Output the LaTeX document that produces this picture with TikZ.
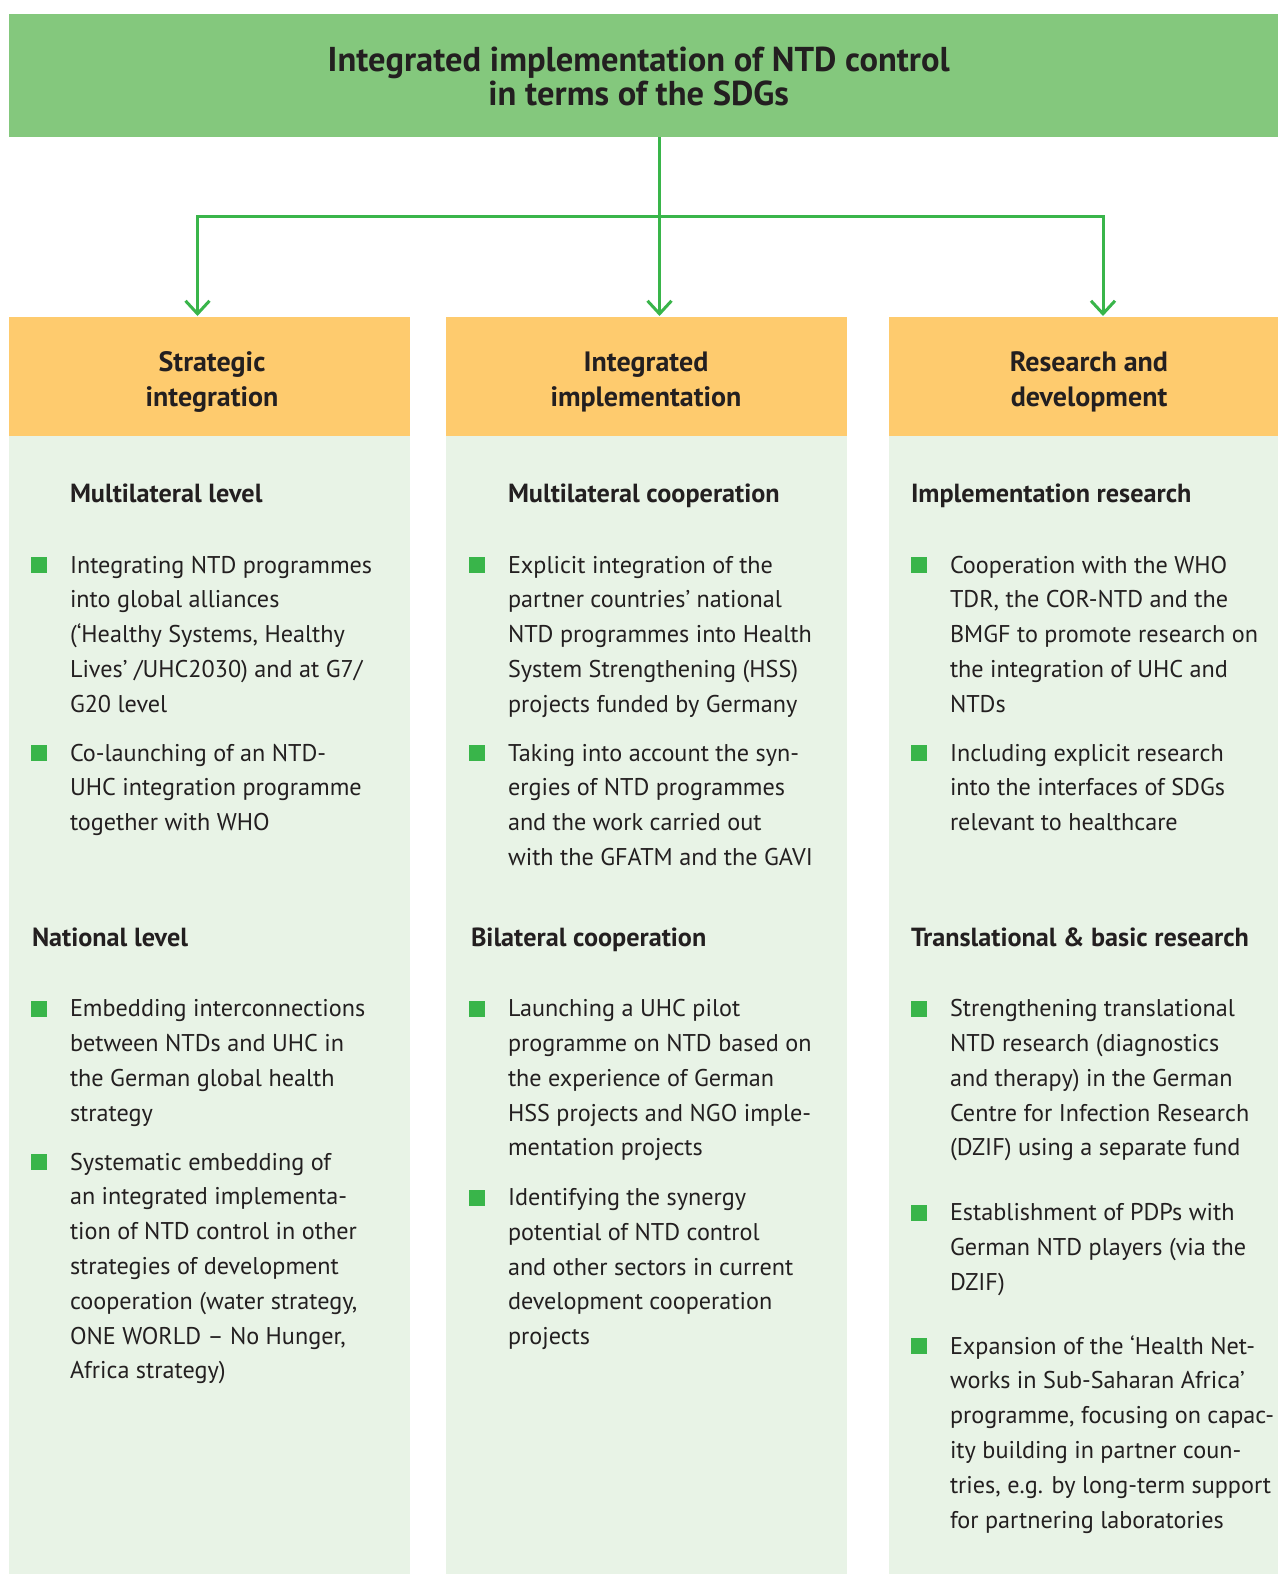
\documentclass[tikz,border=0pt]{standalone}
\usepackage{fontspec}
\setmainfont{PT Sans}
\usetikzlibrary{arrows.meta}
\definecolor{bannergreen}{HTML}{84C87D}
\definecolor{headorange}{HTML}{FECB6E}
\definecolor{panelgreen}{HTML}{E8F3E6}
\definecolor{bulletgreen}{HTML}{39B54A}
\definecolor{txt}{HTML}{231F20}
\tikzset{
  box/.style={inner sep=0pt, outer sep=0pt, anchor=north west},
  bul/.style={fill=bulletgreen, inner sep=0pt, outer sep=0pt, minimum size=16pt, anchor=south west},
  body/.style={inner sep=0pt, outer sep=0pt, anchor=base west, text=txt, font=\fontsize{24.2}{34.8}\selectfont},
  subhead/.style={inner sep=0pt, outer sep=0pt, anchor=base west, text=txt, font=\fontsize{26.2}{30}\selectfont\bfseries},
  colhead/.style={inner sep=0pt, outer sep=0pt, anchor=base, text=txt, font=\fontsize{28}{34.5}\selectfont\bfseries},
  conn/.style={draw=bulletgreen, line width=3pt, -{Straight Barb[length=13pt,width=24pt,line width=3pt]}},
}
\newcommand\bitem[5]{%
  \node[bul] (#1b) at (#2,#4) {};
  \node[body] (#1) at (#3,#4) {\parbox[t]{420pt}{\raggedright #5}};}
\begin{document}
\begin{tikzpicture}[x=1pt,y=-1pt]
\useasboundingbox (0,0) rectangle (1278,1574);
\fill[white] (0,0) rectangle (1278,1574);
% banner
\node[box, fill=bannergreen, minimum width=1269pt, minimum height=123pt] (top) at (9,14) {};
\node[inner sep=0pt, anchor=base, text=txt, font=\fontsize{34.5}{33.4}\selectfont\bfseries] (title) at (638.7,71.7)
  {\parbox[t]{800pt}{\centering Integrated implementation of NTD control\\in terms of the SDGs}};
% column heads
\node[box, fill=headorange, minimum width=401pt, minimum height=119pt] (h1) at (9,317) {};
\node[box, fill=headorange, minimum width=401pt, minimum height=119pt] (h2) at (446,317) {};
\node[box, fill=headorange, minimum width=389pt, minimum height=119pt] (h3) at (889,317) {};
% panels
\node[box, fill=panelgreen, minimum width=401pt, minimum height=1138pt] (p1) at (9,436) {};
\node[box, fill=panelgreen, minimum width=401pt, minimum height=1138pt] (p2) at (446,436) {};
\node[box, fill=panelgreen, minimum width=389pt, minimum height=1138pt] (p3) at (889,436) {};
% column head texts
\node[colhead] (t1) at (212,371.7) {\parbox[t]{380pt}{\centering Strategic\\integration}};
\node[colhead] (t2) at (646,371.7) {\parbox[t]{380pt}{\centering Integrated\\implementation}};
\node[colhead] (t3) at (1089,371.7) {\parbox[t]{380pt}{\centering Research and\\development}};
% connectors
\coordinate (j) at (659.5,216);
\coordinate (a1) at (197.5,316);
\coordinate (a2) at (659.5,316);
\coordinate (a3) at (1103,316);
\draw[conn] (top.south -| j) -- (a2);
\draw[conn] (j) -| (a1);
\draw[conn] (j) -| (a3);
% column 1
\node[subhead] (s11) at (70,502) {Multilateral level};
\bitem{c11}{31}{70}{573}{Integrating NTD programmes\\into global alliances\\(‘Healthy Systems, Healthy\\Lives’ /UHC2030) and at G7/\\G20 level}
\bitem{c12}{31}{70}{761}{Co-launching of an NTD-\\UHC integration programme\\together with WHO}
\node[subhead] (s12) at (32,946) {National level};
\bitem{c13}{31}{70}{1016.7}{Embedding interconnections\\between NTDs and UHC in\\the German global health\\strategy}
\bitem{c14}{31}{70}{1170}{Systematic embedding of\\an integrated implementa-\\tion of NTD control in other\\strategies of development\\cooperation (water strategy,\\ONE WORLD – No Hunger,\\Africa strategy)}
% column 2
\node[subhead] (s21) at (508,502) {Multilateral cooperation};
\bitem{c21}{469}{508}{573}{Explicit integration of the\\partner countries’ national\\NTD programmes into Health\\System Strengthening (HSS)\\projects funded by Germany}
\bitem{c22}{469}{508}{761}{Taking into account the syn-\\ergies of NTD programmes\\and the work carried out\\with the GFATM and the GAVI}
\node[subhead] (s22) at (471,946) {Bilateral cooperation};
\bitem{c23}{469}{508}{1016.7}{Launching a UHC pilot\\programme on NTD based on\\the experience of German\\HSS projects and NGO imple-\\mentation projects}
\bitem{c24}{469}{508}{1205.5}{Identifying the synergy\\potential of NTD control\\and other sectors in current\\development cooperation\\projects}
% column 3
\node[subhead] (s31) at (911,502) {Implementation research};
\bitem{c31}{911}{950}{573}{Cooperation with the WHO\\TDR, the COR-NTD and the\\BMGF to promote research on\\the integration of UHC and\\NTDs}
\bitem{c32}{911}{950}{761}{Including explicit research\\into the interfaces of SDGs\\relevant to healthcare}
\node[subhead] (s32) at (911,946) {Translational \& basic research};
\bitem{c33}{911}{950}{1016.7}{Strengthening translational\\NTD research (diagnostics\\and therapy) in the German\\Centre for Infection Research\\(DZIF) using a separate fund}
\bitem{c34}{911}{950}{1220.7}{Establishment of PDPs with\\German NTD players (via the\\DZIF)}
\bitem{c35}{911}{950}{1354}{Expansion of the ‘Health Net-\\works in Sub-Saharan Africa’\\programme, focusing on capac-\\ity building in partner coun-\\tries, e.g. by long-term support\\for partnering laboratories}
\end{tikzpicture}
\end{document}
